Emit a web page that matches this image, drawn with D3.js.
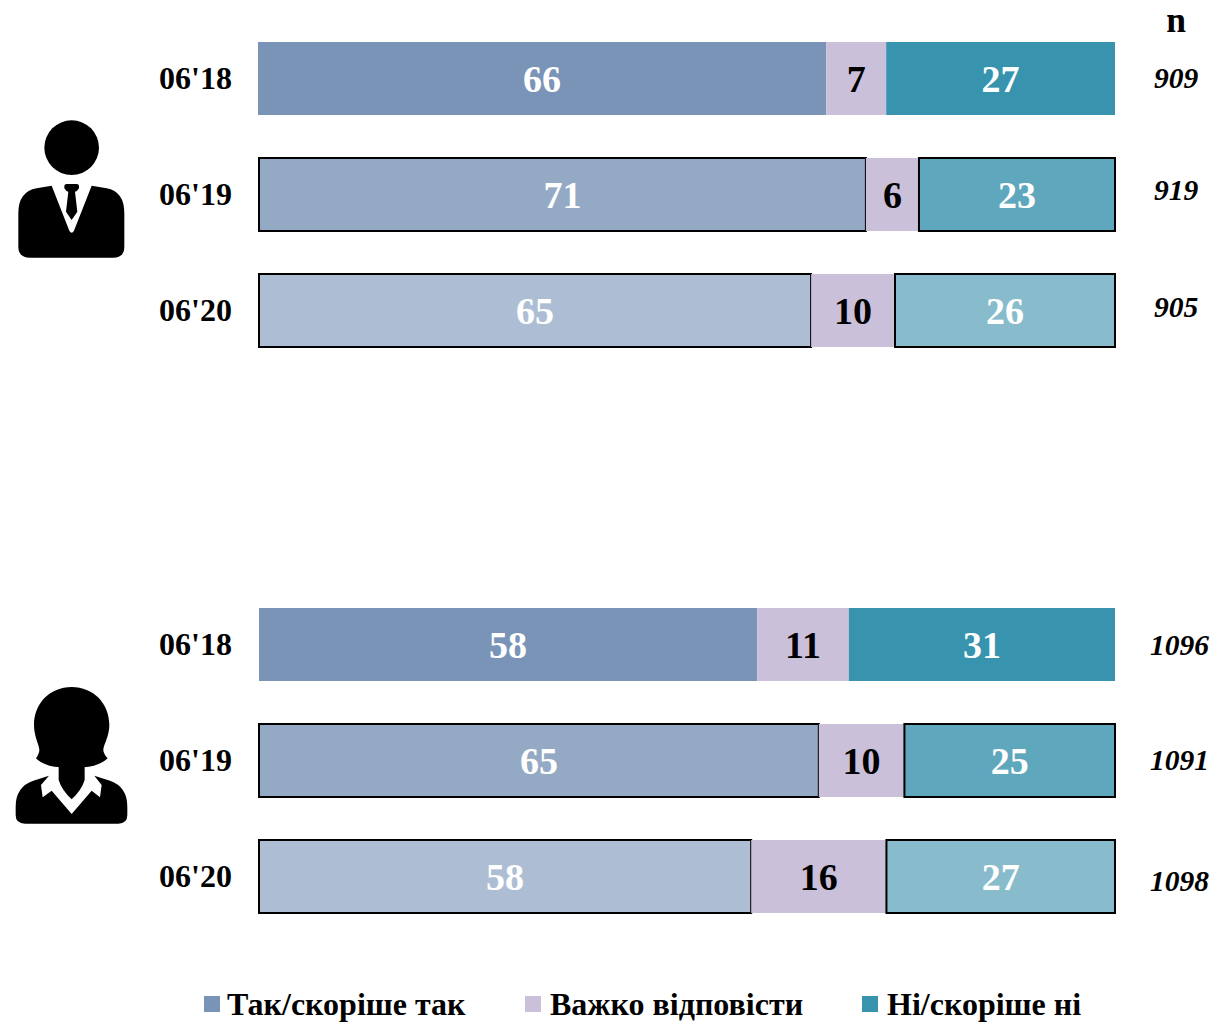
<!DOCTYPE html>
<html lang="uk">
  <head>
    <meta charset="UTF-8" />
    <title>Так/скоріше так</title>
    <style>
      body {
        margin: 0;
        background: #fff;
      }
      svg {
        display: block;
        font-family: "Liberation Serif", serif;
        font-weight: bold;
      }
    </style>
  </head>
  <body>
    <svg width="1212" height="1023"></svg>
    <script src="https://d3js.org/d3.v7.min.js"></script>
    <script>
      const periods = ["06'18", "06'19", "06'20"];
      const answers = ["Так/скоріше так", "Важко відповісти", "Ні/скоріше ні"];

      // the printed labels are these rounded
      const menYes = [66.3, 70.9, 64.5];
      const menHard = [7.0, 6.2, 9.8];
      const menNo = [26.7, 22.9, 25.7];
      const menN = [909, 919, 905];

      const womenYes = [58.2, 65.4, 57.5];
      const womenHard = [10.7, 10.0, 15.8];
      const womenNo = [31.1, 24.6, 26.7];
      const womenN = [1096, 1091, 1098];

      // one shade per period, the middle answer keeps one colour
      const yesColors = ["#7a94b7", "#94a9c4", "#adbed4"];
      const hardColors = ["#cbc0da", "#cbc0da", "#cbc0da"];
      const noColors = ["#3793ae", "#5fa7bd", "#88bccc"];

      const svg = d3.select("svg");

      function drawGroup(cfg) {
        const rows = periods.map((p, i) => ({
          period: p,
          [answers[0]]: cfg.yes[i],
          [answers[1]]: cfg.hard[i],
          [answers[2]]: cfg.no[i],
        }));

        const series = d3.stack().keys(answers).offset(d3.stackOffsetExpand)(rows);

        // the first bar of the top group starts a pixel further left
        const xs = cfg.lefts.map((l) => d3.scaleLinear().domain([0, 1]).range([l, 1115]));
        const y = d3
          .scaleBand()
          .domain(periods)
          .range([cfg.top, cfg.top + 305])
          .paddingInner(43 / 116);

        const g = svg.append("g");

        series.forEach((s, k) => {
          const colors = [yesColors, hardColors, noColors][k];
          g.append("g")
            .selectAll("rect")
            .data(s)
            .join("rect")
            .attr("x", (d, i) => xs[i](d[0]))
            .attr("y", (d) => y(d.data.period))
            .attr("width", (d, i) => xs[i](d[1]) - xs[i](d[0]))
            .attr("height", y.bandwidth())
            .attr("fill", (d, i) => colors[i])
            .attr("stroke", (d, i) => (i > 0 && k !== 1 ? "#000" : "none"))
            .attr("stroke-width", 2);
        });

        // values go on top of all the rects
        series.forEach((s, k) => {
          g.append("g")
            .selectAll("text")
            .data(s)
            .join("text")
            .attr("x", (d, i) => (xs[i](d[0]) + xs[i](d[1])) / 2)
            .attr("y", (d) => y(d.data.period) + y.bandwidth() / 2 + 13.5)
            .attr("text-anchor", "middle")
            .attr("font-size", 38)
            .attr("fill", k === 1 ? "#000" : "#fff")
            .text((d) => Math.round(d.data[answers[k]]));
        });

        const axis = g
          .append("g")
          .attr("transform", "translate(232,0)")
          .call(d3.axisLeft(y).tickSize(0).tickPadding(0));
        axis.select(".domain").remove();
        axis
          .selectAll("text")
          .attr("font-family", "Liberation Serif")
          .attr("font-size", 32)
          .attr("font-weight", "bold")
          .attr("fill", "#000")
          .attr("dy", 10);

        g.append("g")
          .selectAll("text")
          .data(cfg.n)
          .join("text")
          .attr("x", 1176 + cfg.nShift)
          .attr("y", (d, i) => y(periods[i]) + y.bandwidth() / 2 + cfg.nDy[i])
          .attr("text-anchor", "middle")
          .attr("font-size", 29.5)
          .attr("font-style", "italic")
          .text((d) => d);
      }

      drawGroup({
        lefts: [258, 259, 259],
        top: 42,
        yes: menYes,
        hard: menHard,
        no: menNo,
        n: menN,
        nShift: 0,
        nDy: [9.5, 5.5, 6.5],
      });

      drawGroup({
        lefts: [259, 259, 259],
        top: 608,
        yes: womenYes,
        hard: womenHard,
        no: womenNo,
        n: womenN,
        nShift: 3.5,
        nDy: [10.5, 9.5, 14.5],
      });

      svg
        .append("text")
        .attr("x", 1176)
        .attr("y", 31.7)
        .attr("text-anchor", "middle")
        .attr("font-size", 35.5)
        .text("n");

      // man icon, traced at 3x
      const man = svg.append("g").attr("transform", "translate(0,100) scale(0.3333)");
      man.append("circle").attr("cx", 215).attr("cy", 143).attr("r", 82);
      man
        .append("path")
        .attr(
          "d",
          "M155,257 L110,265 Q55,275 55,340 L55,440 Q55,473 90,473 L340,473 Q373,473 373,440 L373,340 Q373,275 320,265 L275,257 L222,392 Q215,405 208,392 Z"
        );
      man
        .append("path")
        .attr(
          "d",
          "M193,258 Q193,252 200,252 L230,252 Q237,252 237,258 L237,265 Q232,274 225,275 L232,335 L215,360 L198,335 L205,275 Q198,274 193,265 Z"
        );

      // woman icon, traced at 3x
      const woman = svg.append("g").attr("transform", "translate(0,670) scale(0.3333)");
      woman
        .append("path")
        .attr(
          "d",
          "M215,51 C150,51 102,100 102,165 C102,200 118,225 118,240 C118,250 110,262 108,265 C125,282 150,290 180,292 L250,292 C280,290 305,282 323,265 C320,262 310,250 310,240 C310,225 328,200 328,165 C328,100 280,51 215,51 Z"
        );
      woman
        .append("path")
        .attr("d", "M176,290 L254,290 L254,330 Q245,360 215,388 Q185,360 176,330 Z");
      woman
        .append("path")
        .attr(
          "d",
          "M147,317 L100,332 Q47,350 47,410 L47,435 Q47,461 75,461 L355,461 Q382,461 382,435 L382,410 Q382,350 330,332 L283,317 L305,345 L300,382 L275,362 L215,432 L155,362 L128,382 L123,345 Z"
        );

      // legend
      const legendX = d3.scaleOrdinal().domain(answers).range([204, 525, 862]);
      const legendColor = d3.scaleOrdinal().domain(answers).range([yesColors[0], hardColors[0], noColors[0]]);
      const legend = svg
        .append("g")
        .selectAll("g")
        .data(answers)
        .join("g")
        .attr("transform", (d) => `translate(${legendX(d)},996)`);
      legend.append("rect").attr("width", 16).attr("height", 16).attr("fill", (d) => legendColor(d));
      legend
        .append("text")
        .attr("x", (d, i) => (i === 0 ? 23 : 25))
        .attr("y", 19)
        .attr("font-size", 32)
        .text((d) => d);
    </script>
  </body>
</html>
